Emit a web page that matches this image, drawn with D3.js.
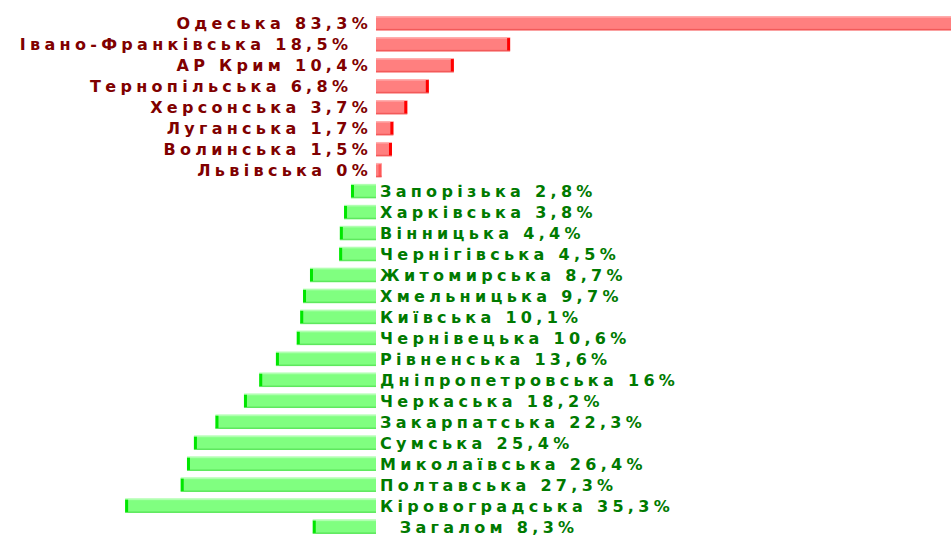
<!DOCTYPE html>
<html>
<head>
<meta charset="utf-8">
<script src="https://cdn.jsdelivr.net/npm/d3@7"></script>
<style>
  html, body { margin: 0; padding: 0; background: #fff; overflow: hidden; }
  svg { display: block; }
  .lbl { font-family: 'DejaVu Sans', Verdana, sans-serif; font-weight: bold; font-size: 16px; letter-spacing: 4.3px; white-space: pre; }
</style>
</head>
<body>
<svg id="chart" width="951" height="535"></svg>
<script>
// regions with growth (red, bars to the right)
const upNames = ['Одеська', 'Івано-Франківська', 'АР Крим', 'Тернопільська', 'Херсонська', 'Луганська', 'Волинська', 'Львівська'];
const upValues = [83.3, 18.5, 10.4, 6.8, 3.7, 1.7, 1.5, 0];
const upText = ['83,3%', '18,5%  ', '10,4%', '6,8%  ', '3,7%', '1,7%', '1,5%', '0%'];

// regions with decline (green, bars to the left)
const downNames = ['Запорізька', 'Харківська', 'Вінницька', 'Чернігівська', 'Житомирська', 'Хмельницька', 'Київська', 'Чернівецька',
  'Рівненська', 'Дніпропетровська', 'Черкаська', 'Закарпатська', 'Сумська', 'Миколаївська', 'Полтавська', 'Кіровоградська', 'Загалом'];
const downValues = [2.8, 3.8, 4.4, 4.5, 8.7, 9.7, 10.1, 10.6, 13.6, 16, 18.2, 22.3, 25.4, 26.4, 27.3, 35.3, 8.3];
const downText = ['2,8%', '3,8%', '4,4%', '4,5%', '8,7%', '9,7%', '10,1%', '10,6%', '13,6%', '16%', '18,2%', '22,3%', '25,4%', '26,4%', '27,3%', '35,3%', '8,3%'];

const svg = d3.select('#chart');
const axisX = 376;

const rows = upNames.map((n, i) => ({ name: n, value: upValues[i], label: n + ' ' + upText[i], dir: 1 }))
  .concat(downNames.map((n, i) => ({
    name: n, value: downValues[i], dir: -1,
    label: (n === 'Загалом' ? '  ' : '') + n + ' ' + downText[i]
  })));

const x = d3.scaleLinear().domain([-0.8, 90]).range([0, 631]);
const y = d3.scaleBand().domain(rows.map(d => d.name)).range([9.4, 540.6]).padding(0.32);

const g = svg.append('g');

const row = g.selectAll('.row').data(rows).enter().append('g').attr('class', 'row');

// bar body
row.append('rect')
  .attr('x', d => d.dir > 0 ? axisX : axisX - x(d.value))
  .attr('y', d => y(d.name))
  .attr('width', d => x(d.value))
  .attr('height', y.bandwidth())
  .attr('fill', d => d.dir > 0 ? '#ff7f7f' : '#80ff80');

// light top edge
row.append('rect')
  .attr('x', d => d.dir > 0 ? axisX : axisX - x(d.value))
  .attr('y', d => y(d.name))
  .attr('width', d => x(d.value))
  .attr('height', 1.5)
  .attr('fill', d => d.dir > 0 ? '#ffb0b0' : '#b0ffb0');

// darker bottom edge
row.append('rect')
  .attr('x', d => d.dir > 0 ? axisX : axisX - x(d.value))
  .attr('y', d => y(d.name) + y.bandwidth() - 1.5)
  .attr('width', d => x(d.value))
  .attr('height', 1.5)
  .attr('fill', d => d.dir > 0 ? '#f25a5a' : '#5ee85e');

// saturated end strip
row.append('rect')
  .attr('x', d => d.dir > 0 ? axisX + x(d.value) - 3 : axisX - x(d.value))
  .attr('y', d => y(d.name) + 1)
  .attr('width', 3)
  .attr('height', y.bandwidth() - 2)
  .attr('fill', d => d.dir > 0 ? '#ff0000' : '#00e600')
  .attr('opacity', d => d.value === 0 ? 0.3 : 1);

// labels
row.append('text')
  .attr('class', 'lbl')
  .attr('x', d => d.dir > 0 ? axisX - 4 : axisX + 4)
  .attr('y', d => y(d.name) + y.bandwidth() / 2)
  .attr('dy', '0.36em')
  .attr('text-anchor', d => d.dir > 0 ? 'end' : 'start')
  .attr('fill', d => d.dir > 0 ? '#800000' : '#007a00')
  .text(d => d.label);
</script>
</body>
</html>
